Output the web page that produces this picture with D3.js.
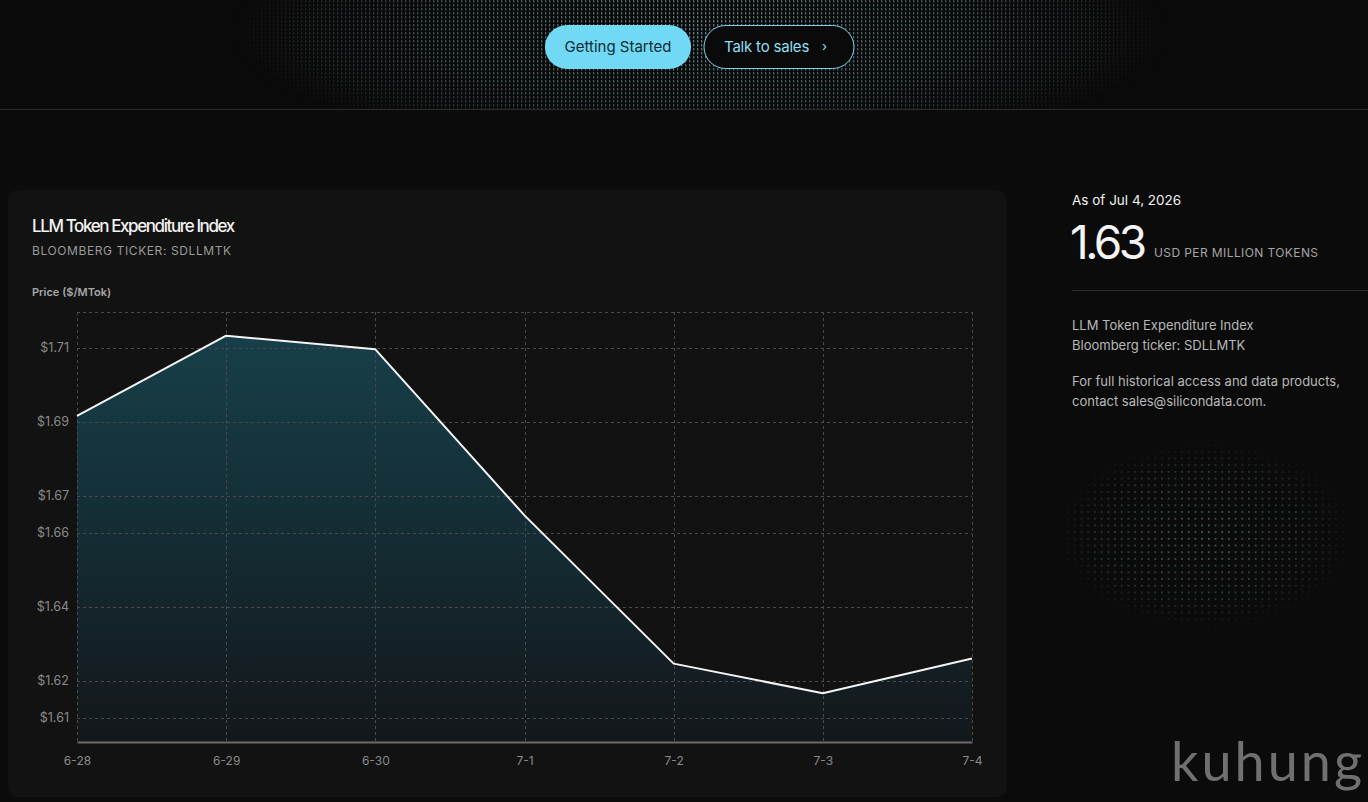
<!DOCTYPE html>
<html>
<head>
<meta charset="utf-8">
<title>LLM Token Expenditure Index</title>
<script src="https://d3js.org/d3.v7.min.js"></script>
<style>
  html, body { margin: 0; padding: 0; background: #0b0b0b; overflow: hidden; }
  svg { display: block; font-family: Inter, "Noto Sans", sans-serif; }
</style>
</head>
<body>
<svg id="page" width="1368" height="802"></svg>
<script>
// data
var dates = ['6-28', '6-29', '6-30', '7-1', '7-2', '7-3', '7-4'];
var prices = [1.6916, 1.7133, 1.7096, 1.6647, 1.6246, 1.6166, 1.6260];
var yTicks = [1.61, 1.62, 1.64, 1.66, 1.67, 1.69, 1.71];
var yDomain = [1.6034, 1.7197];

var svg = d3.select('#page');
var defs = svg.append('defs');

// header dot texture
var pat = defs.append('pattern').attr('id', 'dots')
  .attr('width', 4).attr('height', 4).attr('patternUnits', 'userSpaceOnUse');
pat.append('rect').attr('x', 1).attr('y', 0).attr('width', 1.3).attr('height', 2.5).attr('fill', '#5d7f88');

var hg = defs.append('radialGradient').attr('id', 'hmask-g')
  .attr('cx', '0.5').attr('cy', '0.45').attr('r', '0.5');
hg.append('stop').attr('offset', '0').attr('stop-color', '#fff').attr('stop-opacity', 1);
hg.append('stop').attr('offset', '0.6').attr('stop-color', '#fff').attr('stop-opacity', 0.6);
hg.append('stop').attr('offset', '1').attr('stop-color', '#fff').attr('stop-opacity', 0);
defs.append('mask').attr('id', 'hmask')
  .append('rect').attr('x', 230).attr('y', -80).attr('width', 940).attr('height', 250).attr('fill', 'url(#hmask-g)');

var bg = defs.append('radialGradient').attr('id', 'bmask-g')
  .attr('cx', '0.5').attr('cy', '0.5').attr('r', '0.5');
bg.append('stop').attr('offset', '0').attr('stop-color', '#fff').attr('stop-opacity', 0.85);
bg.append('stop').attr('offset', '0.7').attr('stop-color', '#fff').attr('stop-opacity', 0.45);
bg.append('stop').attr('offset', '1').attr('stop-color', '#fff').attr('stop-opacity', 0);
defs.append('mask').attr('id', 'bmask')
  .append('rect').attr('x', 1055).attr('y', 440).attr('width', 300).attr('height', 190).attr('fill', 'url(#bmask-g)');

var pat2 = defs.append('pattern').attr('id', 'dots2')
  .attr('width', 6.7).attr('height', 6.7).attr('patternUnits', 'userSpaceOnUse');
pat2.append('rect').attr('x', 2).attr('y', 2).attr('width', 1.6).attr('height', 1.6).attr('fill', '#5f8f8a');

// header
svg.append('rect').attr('width', 1368).attr('height', 109).attr('fill', '#0a0a0a');
svg.append('rect').attr('width', 1368).attr('height', 109).attr('fill', 'url(#dots)').attr('mask', 'url(#hmask)');
svg.append('line').attr('x1', 0).attr('x2', 1368).attr('y1', 109.5).attr('y2', 109.5).attr('stroke', '#2c2c2c');

svg.append('rect').attr('x', 545).attr('y', 25).attr('width', 146).attr('height', 44).attr('rx', 22).attr('fill', '#72d9f5');
svg.append('text').attr('x', 618).attr('y', 52).attr('text-anchor', 'middle')
  .attr('font-size', 15).attr('fill', '#0e2a33').text('Getting Started');
svg.append('rect').attr('x', 704).attr('y', 25.5).attr('width', 150).attr('height', 43).attr('rx', 21.5)
  .attr('fill', '#0a0a0a').attr('stroke', '#7cd4ea').attr('stroke-width', 1);
svg.append('text').attr('x', 724).attr('y', 52)
  .attr('font-size', 15).attr('letter-spacing', -0.2).attr('fill', '#8fdff3').text('Talk to sales');
svg.append('text').attr('x', 822).attr('y', 51)
  .attr('font-size', 13).attr('fill', '#8fdff3').text('›');

// card
svg.append('rect').attr('x', 8).attr('y', 190).attr('width', 999).attr('height', 607).attr('rx', 10).attr('fill', '#121212');
svg.append('text').attr('x', 32).attr('y', 232).attr('font-size', 17).attr('font-weight', 500)
  .attr('letter-spacing', -1.4).attr('fill', '#f2f2f2').text('LLM Token Expenditure Index');
svg.append('text').attr('x', 32).attr('y', 255).attr('font-size', 12)
  .attr('letter-spacing', 0.6).attr('fill', '#9a9a9a').text('BLOOMBERG TICKER: SDLLMTK');
svg.append('text').attr('x', 32).attr('y', 296).attr('font-size', 11).attr('font-weight', 600)
  .attr('fill', '#a8a8a8').text('Price ($/MTok)');

// chart
var L = 77, R = 972, T = 312, B = 742;
var x = d3.scalePoint().domain(dates).range([L, R]);
var y = d3.scaleLinear().domain(yDomain).range([B, T]);

var fg = defs.append('linearGradient').attr('id', 'fill-g')
  .attr('gradientUnits', 'userSpaceOnUse').attr('x1', 0).attr('x2', 0).attr('y1', y(d3.max(prices))).attr('y2', B);
fg.append('stop').attr('offset', '0').attr('stop-color', '#173f49');
fg.append('stop').attr('offset', '0.55').attr('stop-color', '#142a31');
fg.append('stop').attr('offset', '1').attr('stop-color', '#13171a');

var g = svg.append('g');
var pts = dates.map(function (d, i) { return [d, prices[i]]; });

g.append('path').datum(pts)
  .attr('fill', 'url(#fill-g)')
  .attr('d', d3.area().x(function (d) { return x(d[0]); }).y0(B).y1(function (d) { return y(d[1]); }));

// grid
var grid = g.append('g').attr('stroke', '#4a4a4a').attr('stroke-width', 1).attr('stroke-dasharray', '3,3');
grid.selectAll('.hg').data(yTicks).enter().append('line')
  .attr('x1', L).attr('x2', R)
  .attr('y1', function (d) { return Math.round(y(d)) + 0.5; })
  .attr('y2', function (d) { return Math.round(y(d)) + 0.5; });
grid.append('line').attr('x1', L).attr('x2', R).attr('y1', T + 0.5).attr('y2', T + 0.5);
grid.selectAll('.vg').data(dates).enter().append('line')
  .attr('x1', function (d) { return Math.round(x(d)) + 0.5; })
  .attr('x2', function (d) { return Math.round(x(d)) + 0.5; })
  .attr('y1', T).attr('y2', B);

// axes
var xAxis = d3.axisBottom(x).tickSize(0).tickPadding(14);
var yAxis = d3.axisLeft(y).tickValues(yTicks).tickSize(0).tickPadding(8)
  .tickFormat(function (d) { return '$' + d3.format('.2f')(d); });

var xa = svg.append('g').attr('transform', 'translate(0,' + B + ')').call(xAxis);
xa.select('.domain').attr('stroke', '#6a6a6a').attr('stroke-width', 2);
xa.selectAll('text').attr('fill', '#8a8a8a').attr('font-size', 12).attr('font-family', 'Inter, sans-serif');

var ya = svg.append('g').attr('transform', 'translate(' + L + ',0)').call(yAxis);
ya.select('.domain').remove();
ya.selectAll('text').attr('fill', '#8a8a8a').attr('font-size', 12.5).attr('font-family', 'Inter, sans-serif');

g.append('path').datum(pts)
  .attr('fill', 'none').attr('stroke', '#f4f4f4').attr('stroke-width', 2).attr('stroke-linejoin', 'round')
  .attr('d', d3.line().x(function (d) { return x(d[0]); }).y(function (d) { return y(d[1]); }));

// right panel
svg.append('text').attr('x', 1072).attr('y', 205).attr('font-size', 13.5).attr('fill', '#f2f2f2').text('As of Jul 4, 2026');
svg.append('text').attr('x', 1070).attr('y', 259).attr('font-size', 46).attr('letter-spacing', -3.5)
  .attr('fill', '#f4f4f4').text(d3.format('.2f')(prices[prices.length - 1]));
svg.append('text').attr('x', 1154).attr('y', 257).attr('font-size', 12).attr('letter-spacing', 0.4)
  .attr('fill', '#a5a5a5').text('USD PER MILLION TOKENS');
svg.append('line').attr('x1', 1072).attr('x2', 1368).attr('y1', 290.5).attr('y2', 290.5).attr('stroke', '#2e2e2e');

var notes = [
  ['LLM Token Expenditure Index', 330],
  ['Bloomberg ticker: SDLLMTK', 350],
  ['For full historical access and data products,', 386],
  ['contact sales@silicondata.com.', 406]
];
svg.selectAll('.note').data(notes).enter().append('text')
  .attr('x', 1072).attr('y', function (d) { return d[1]; })
  .attr('font-size', 13).attr('fill', '#b8b8b8').text(function (d) { return d[0]; });

svg.append('rect').attr('x', 1055).attr('y', 440).attr('width', 300).attr('height', 190)
  .attr('fill', 'url(#dots2)').attr('mask', 'url(#bmask)');

// watermark
svg.append('text').attr('x', 1365).attr('y', 781).attr('text-anchor', 'end')
  .attr('font-family', 'Lato, "Open Sans", sans-serif').attr('font-size', 54).attr('letter-spacing', 3)
  .attr('fill', '#707070').text('kuhung');
</script>
</body>
</html>
